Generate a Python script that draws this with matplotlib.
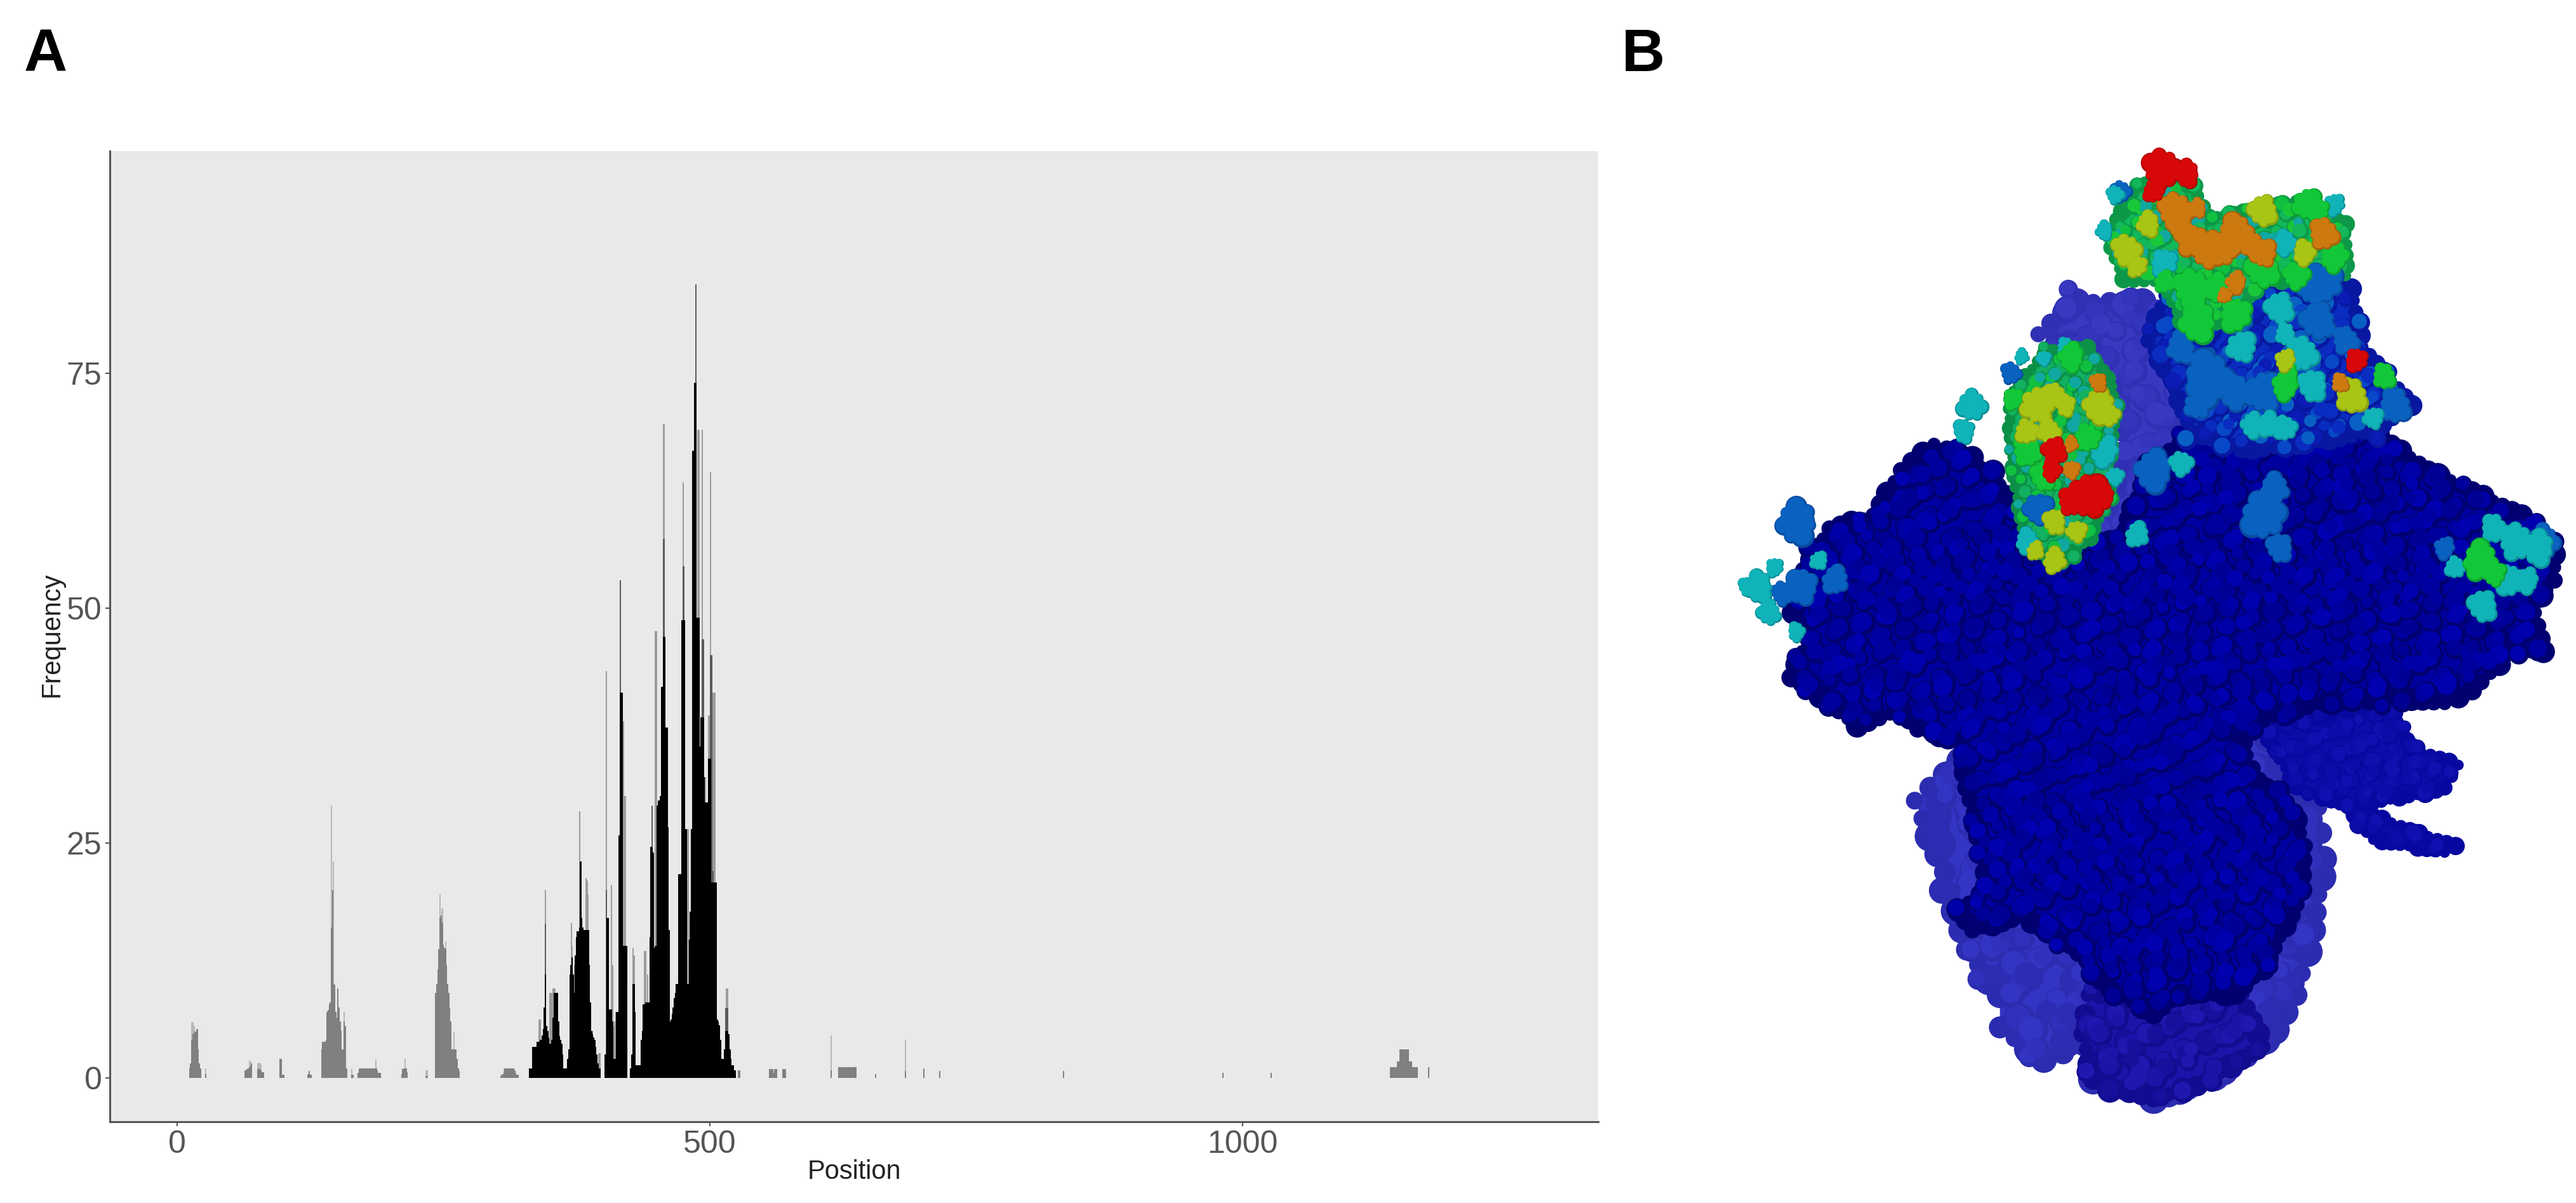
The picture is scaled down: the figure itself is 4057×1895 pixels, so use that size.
import numpy as np
import matplotlib
matplotlib.use('Agg')
import matplotlib.pyplot as plt
from matplotlib.path import Path
from matplotlib.patches import Polygon

plt.rcParams['font.family'] = ['Liberation Sans', 'DejaVu Sans']

# Panel A: grey part of the sequence
grey_pos = ([12,13,14,15,16,17,18,19,20,21,22,27] + list(range(64,71)) + list(range(76,82)) + [97,98,99,100,123,124,125,126]
            + list(range(136,160)) + [164,165] + list(range(170,192)) + list(range(211,217)) + [234,235]
            + list(range(243,266)) + list(range(304,321)) + [527,528] + list(range(556,564)) + [569,570,571]
            + [614] + list(range(621,638)) + [656,684,701,716,832,982,1027]
            + list(range(1139,1165)) + [1175])
grey_h = ([1,1.5,4,4.7,4.7,4.9,4.9,5.2,3,1.5,1,0.4]
          + [.8,.8,.9,1,1.1,1.2,1.5] + [.9,.9,.9,.7,.6,.6] + [2,2,.3,.3,.4,.7,.3,.3]
          + [3,3.8,3.8,3.8,4,7,7.2,7.8,8,16,20,10,9.9,7,6.4,9.5,7.5,6,5,3,3,6,5.5,1]
          + [.3,.3] + [.5]+[1]*17+[.8,.5,.5,.5]
          + [.4,.9,1,1,1,.6] + [.2,.2]
          + [9,10,11.5,13.7,17,17.3,16.5,14.2,13.8,13.7,12,10,9,7.5,6,3,3,3,3,3,2,1,.7]
          + [.2,.3,.4,.6,1,1,1,1,1,1,1,1,1,.8,.5,.3,.3] + [.8,.8]
          + [.9,.9,.9,.9,.5,.9,.9,.9] + [.9,.9,.9]
          + [.8] + [1.1]*17 + [.4,.7,1,.7,.7,.5,.5]
          + [1.1]*7 + [1.7,1.7] + [3]*9 + [1.7,1.7,1.7] + [1.1]*5 + [1.1])
grey_top_pos = [14,15,16,27,68,69,76,77,78,79,145,147,157,164,187,214,234,235,247,249,252,260,307,614,684]
grey_top_h = [5.9,5.9,5.5,1,1.8,1.8,1.5,1.6,1.5,1.4,29,23,7,.9,1.9,2,.8,.8,19.5,18,14.5,4.9,1,4.5,4]

# black part of the sequence
black_pos = list(range(331,398)) + list(range(402,423)) + list(range(426,525))
black_h = ([1,1,1,3.3,3.3,3.3,3.3,3.8,3.8,3.8,4,4,4.5,5.2,7.5,11,5.5,5,4.2,3.6,3.6,4,6.4,9,9,9,9,6,4.4,4,3.6,2.5,1,1,1,1,2,3,
            11,12,12.8,11,9,13,15,15.6,15.6,16,23,17,16,15.7,15.7,15.7,15.7,15.7,12,8,5,4.6,4.3,4,3.3,2.5,1.5,1,1]
           + [2.5,2.5,17,17,7.3,7.3,7.3,6,2,2,2,7,7,25.8,41,41,41,14,14,14,14]
           + [1,2.5,10,10,7,1.3,1.3,1.3,1.3,1.3,4,5,7.8,7.8,8,8,8,8,15,24.6,24.6,24,13.8,14,14,29,29.5,29.5,30,41.6,41.6,47,47,37.3,37.3,26.7,15.7,6,
              6.2,6.8,7.5,8.5,9,10,10,21.7,21.7,21.7,48.7,48.7,48.7,26.5,26.5,10,10,14.7,17.7,26.5,66.8,66.8,74,74,49,49,49,35.3,38.4,38.4,38.4,32,29.3,29.3,29.3,
              34,34,34,20.8,20.8,20.8,20.8,20.8,6.2,6,5.6,4,2,2,2,3,5,5,5,4.6,3,2,1.3,1.3,.8,.8])
black_mid_pos = [346,403,416,429,446,457,476,475,487,493,494,501,502,503,515,516,517]
black_mid_h = [16.4,20,53,10,29,57.4,54.5,54.5,84.5,46.7,46.7,45,45,22,7.4,7.4,7.4]
black_top_pos = [340,341,346,350,351,352,353,354,355,370,371,373,378,384,385,386,390,396,397,
                 403,408,409,410,411,412,419,420,421,428,429,439,440,441,442,449,450,457,475,479,480,
                 489,490,493,496,499,500,501,503,504,505,516,517]
black_top_h = [6.2,6.2,20,9,9,9,9.5,9.5,9.5,16.5,14,12,28.4,21.3,21,19.5,5,2.6,2.6,
               43.3,20.5,12,5.5,6,7,38,30,30,13.8,13,13.5,13.5,8,11,47.6,47.6,69.6,63.4,26.5,26.5,
               69,69,69,32,38.6,38.6,64.5,41,41,41,9.5,9.5]

x_ticks = [0,500,1000]
y_ticks = [0,25,50,75]

# Panel B, shapes in the coordinates of a 1568 x 1568 view of the structure
body_outline = [(150,700),(210,620),(290,600),(340,530),(400,490),(470,510),(560,600),(560,640),(740,640),(790,520),(870,480),
                (1000,480),(1200,470),(1300,530),(1400,570),(1470,600),(1530,640),(1530,700),(1490,730),(1510,810),(1440,810),
                (1420,770),(1430,830),(1380,870),(1330,890),(1230,880),(1100,890),(1000,915),(960,950),(990,1010),(1060,1070),
                (1075,1110),(1060,1200),(1000,1300),(950,1340),(850,1340),(800,1370),(720,1330),(650,1260),(560,1220),(470,1240),
                (445,1210),(500,1170),(460,1020),(450,950),(370,930),(340,900),(260,925),(210,890),(140,850),(170,790),(130,730)]
lobe_outline = [(1000,930),(1230,890),(1270,960),(1355,985),(1330,1020),(1165,1050),(1250,1080),(1350,1110),(1330,1120),
                (1200,1100),(1155,1050),(1060,1020)]
back_low_outline = [(365,1040),(450,980),(990,920),(1100,1050),(1110,1130),(1090,1240),(1060,1340),(1000,1420),(880,1480),
                    (800,1500),(690,1470),(670,1420),(600,1440),(520,1390),(520,1340),(460,1270),(420,1150)]
bottom_outline = [(680,1340),(860,1340),(960,1340),(1000,1420),(880,1480),(800,1500),(690,1470),(670,1400)]
back_up_outline = [(590,320),(660,270),(780,270),(830,330),(850,450),(800,520),(800,650),(690,660),(730,560),(740,470),(700,350)]
top_blue_outline = [(820,260),(1000,250),(1160,250),(1180,340),(1270,430),(1200,470),(1080,490),(980,500),(870,470),(830,390),(790,330)]
top_green_outline = [(715,170),(770,90),(870,90),(900,140),(980,130),(1060,115),(1150,150),(1150,230),(1000,240),(900,310),(850,300),(820,240),(745,235)]
left_green_outline = [(535,420),(600,350),(680,340),(725,400),(730,460),(715,540),(720,560),(685,635),(620,680),(565,635),(545,540)]

steel_blobs = [(740,100,14),(150,610,28),(1110,240,26),(1100,300,24),(900,390,34),(1000,410,26),(1150,330,18),(800,530,26),
               (1000,600,30),(1030,650,18),(1020,560,20),(590,590,20),(1240,430,22),(1330,650,14),(1510,640,22),(160,710,22),(220,700,18),
               (125,720,16),(850,340,20),(960,300,16),(1090,250,20),(950,410,22),(880,430,18),(540,380,14)]
cyan_blobs = [(730,105,12),(710,160,12),(820,210,18),(1030,280,20),(1040,180,16),(960,340,20),(1070,350,22),(980,460,16),(1040,465,16),
              (1090,400,20),(560,355,10),(600,358,10),(640,340,12),(710,500,20),(470,430,20),(455,470,15),(770,630,16),(850,520,16),
              (80,710,20),(110,680,12),(100,750,16),(150,780,12),(190,670,12),(1460,640,24),(1500,650,22),(1450,700,20),(1400,740,20),
              (570,640,16),(1200,450,14),(1420,620,18),(1480,700,16),(1350,680,14),(60,710,12),(1010,460,16),(730,540,12),(1040,320,14),(1130,120,14)]
green_blobs = [(870,250,26),(880,300,26),(950,290,22),(1000,220,24),(1130,200,20),(1080,120,20),(570,500,20),(650,355,18),(680,480,18),
               (600,540,18),(1395,670,24),(1420,690,16),(1220,385,16),(1040,400,18),(920,250,20),(1100,130,16),(820,240,14),(1060,230,18),(1045,380,14),(545,420,14)]
yellow_blobs = [(750,190,20),(790,150,16),(770,215,14),(1000,130,20),(1075,195,16),(590,430,24),(620,415,16),(700,430,22),(570,470,16),
                (620,610,16),(620,670,16),(660,625,14),(1160,415,22),(1040,360,14),(610,470,16),(640,430,14),(585,655,12),(720,445,14)]
orange_blobs = [(840,130,24),(880,125,12),(870,175,20),(900,190,24),(950,165,24),(1000,195,18),(1110,165,20),(950,240,14),(930,260,10),
                (700,395,12),(650,490,10),(650,530,12),(1140,395,12),(850,155,16),(925,190,20),(975,180,16)]
red_blobs = [(815,65,26),(860,72,17),(1170,360,15),(620,500,17),(615,530,14),(680,570,28),(650,578,18),(710,570,14),(800,100,14)]

fig = plt.figure(figsize=(40.57,18.95), dpi=100)
W, H = 4057.0, 1895.0

# Panel A
ax = fig.add_axes([173/W, 1-1767/H, (2517-173)/W, (1767-238)/H])
ax.set_facecolor('#e9e9e9')
ax.bar(grey_top_pos, grey_top_h, width=1.2, color='#b8b8b8', linewidth=0)
ax.bar(grey_pos, grey_h, width=1.3, color='#808080', linewidth=0)
ax.bar(black_top_pos, black_top_h, width=1.2, color='#9c9c9c', linewidth=0)
ax.bar(black_mid_pos, black_mid_h, width=1.2, color='#5a5a5a', linewidth=0)
ax.bar(black_pos, black_h, width=1.4, color='black', linewidth=0)
ax.set_xlim(-63,1334)
ax.set_ylim(-4.7,98.7)
ax.set_xticks(x_ticks)
ax.set_yticks(y_ticks)
ax.tick_params(length=5, width=1.5, color='#555555', labelcolor='#555555', labelsize=36, pad=4)
for s in ['top','right']:
    ax.spines[s].set_visible(False)
for s in ['left','bottom']:
    ax.spines[s].set_color('#555555')
    ax.spines[s].set_linewidth(2.2)
fig.text(1345/W, 1-1846/H, 'Position', fontsize=30, color='#222222', ha='center', va='center')
fig.text(82/W, 1-1000/H, 'Frequency', fontsize=30, color='#222222', rotation=90, ha='center', va='center')

fig.text(38/W, 1-88/H, 'A', fontsize=68, fontweight='bold', color='black', ha='left', va='center')
fig.text(2554/W, 1-88/H, 'B', fontsize=68, fontweight='bold', color='black', ha='left', va='center')

# Panel B
bx = fig.add_axes([2700/W, 1-1800/H, 1356/W, 1600/H])
bx.set_xlim(0,1568)
bx.set_ylim(1568,0)
bx.axis('off')

def size(r):
    return (1.44*r)**2

def bumpy(outline, shades, dark, r, step, z):
    # fill a shape with small round bumps so that it reads as a molecular surface
    poly = Path(outline + [outline[0]], closed=True)
    bx.add_patch(Polygon(outline, closed=True, facecolor=shades[0], edgecolor='none', zorder=z))
    xs, ys = np.meshgrid(np.arange(0,1568,step*1.15), np.arange(0,1568,step*0.85))
    xs[1::2] += step*0.55
    pts = np.column_stack([xs.ravel(), ys.ravel()])
    pts = pts[poly.contains_points(pts)]
    # shift the grid a little so no rows show
    n = np.arange(len(pts))
    pts[:,0] += ((n*37) % 11 - 5) * step/9
    pts[:,1] += ((n*23) % 13 - 6) * step/9
    cols = [shades[i] for i in (n*7) % len(shades)]
    rad = r*(0.8 + 0.4*((n*17) % 7)/6)
    ring = []
    closed = outline + [outline[0]]
    for a, b in zip(closed[:-1], closed[1:]):
        m = max(int(np.hypot(b[0]-a[0], b[1]-a[1])/(step*0.8)), 1)
        for t in np.arange(m)/m:
            ring.append((a[0]+(b[0]-a[0])*t, a[1]+(b[1]-a[1])*t))
    ring = np.array(ring)
    k = np.arange(len(ring))
    ring_r = r*(0.7 + 0.5*((k*5) % 4)/3)
    bx.scatter(ring[:,0], ring[:,1], s=size(ring_r), color=dark, linewidths=0, zorder=z)
    bx.scatter(pts[:,0], pts[:,1], s=size(rad*1.05), color=dark, linewidths=0, zorder=z+0.1)
    bx.scatter(pts[:,0]-r*0.12, pts[:,1]-r*0.12, s=size(rad*0.8), c=cols, linewidths=0, zorder=z+0.2)

lump_r = np.array([0.62,0.38,0.5,0.3,0.56,0.42,0.34])

def blobs(items, color, dark, z):
    a = np.array(items, dtype=float)
    for i, (x, y, r) in enumerate(a):
        # a few uneven lumps round each blob, turned differently each time
        ang = np.arange(7)*2*np.pi/7 + i*1.1
        lx = x + np.cos(ang)*r*0.85
        ly = y + np.sin(ang)*r*0.85
        bx.scatter(lx, ly, s=size(r*lump_r*1.1), color=dark, linewidths=0, zorder=z)
        bx.scatter(x, y, s=size(r), color=dark, linewidths=0, zorder=z)
        bx.scatter(lx-1, ly-1, s=size(r*lump_r*0.9), color=color, linewidths=0, zorder=z+0.1)
        bx.scatter(x-1, y-1, s=size(r*0.92), color=color, linewidths=0, zorder=z+0.1)

bumpy(back_low_outline, ['#3434c4','#3030bc','#2c2cb4'], '#2c2cb0', 20, 34, 1)
bumpy(back_up_outline, ['#3838c0','#3434bc'], '#3030b4', 18, 32, 1)
bumpy(bottom_outline, ['#1a14a8','#16109c','#1e18b0'], '#120c90', 16, 26, 2)
bumpy(lobe_outline, ['#0c0ca8','#1010b0'], '#0808a0', 12, 20, 3)
bumpy(body_outline, ['#0000a0','#0000a8','#000096','#0000b0','#00009c'], '#000070', 15, 23, 4)
bumpy(top_blue_outline, ['#0a2cc0','#0848c8','#0a1cb4','#0860c4'], '#0818a0', 14, 22, 5)
bumpy(top_green_outline, ['#12b85a','#10c040','#10a8a0','#18c838'], '#0c9848', 12, 20, 6)
bumpy(left_green_outline, ['#12b060','#10c040','#10a8a0'], '#0c9048', 11, 18, 6)
blobs(steel_blobs, '#0a62c0', '#084ca0', 7)
blobs(cyan_blobs, '#10b4b8', '#0c9098', 8)
blobs(green_blobs, '#12c838', '#0ea030', 9)
blobs(yellow_blobs, '#a8c414', '#88a010', 10)
blobs(orange_blobs, '#cc7a10', '#a8600c', 11)
blobs(red_blobs, '#d80808', '#b00606', 12)

fig.savefig('out.png', dpi=100, facecolor='white')
